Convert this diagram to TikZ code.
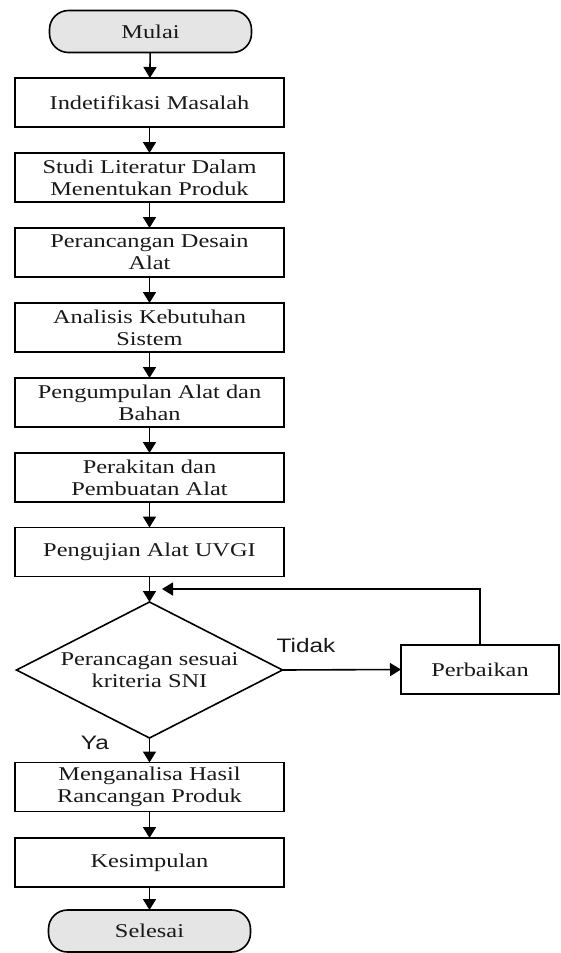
\documentclass[tikz,border=0pt]{standalone}
\usepackage{fontspec}
\usetikzlibrary{shapes.geometric,arrows.meta}
\newfontfamily\boxfont[FakeStretch=1.25]{Liberation Serif}
\newfontfamily\lblfont[FakeStretch=1.25]{Liberation Sans}
\begin{document}
\begin{tikzpicture}[x=1pt,y=-1pt,
  every node/.style={inner sep=0pt,outer sep=0pt},
  txt/.style={font=\boxfont\fontsize{19.5}{22}\selectfont,align=center,text=black!90},
  procbox/.style={txt,draw,line width=1.6pt,minimum width=269pt,minimum height=49pt},
  termbox/.style={txt,draw,line width=1.6pt,fill=gray!20,rounded corners=19pt,minimum width=202pt,minimum height=42pt},
  decbox/.style={draw,line width=1.6pt,diamond,minimum width=266pt,minimum height=136pt},
  lbl/.style={font=\lblfont\fontsize{19.5}{22}\selectfont,text=black!90},
  arr/.style={line width=1.6pt,-{Triangle[length=11pt,width=13pt]}}]
\useasboundingbox (0,0) rectangle (561,953);
\node[termbox] (start) at (150.5,31.5) {Mulai};
\node[procbox] (b1) at (149.5,102.5) {Indetifikasi Masalah};
\node[procbox] (b2) at (149.5,177.5) {Studi Literatur Dalam\\Menentukan Produk};
\node[procbox] (b3) at (149.5,252.5) {Perancangan Desain\\Alat};
\node[procbox] (b4) at (149.5,327.5) {Analisis Kebutuhan\\Sistem};
\node[procbox] (b5) at (149.5,402.5) {Pengumpulan Alat dan\\Bahan};
\node[procbox] (b6) at (149.5,477.5) {Perakitan dan\\Pembuatan Alat};
\node[procbox] (b7) at (149.5,552) {Pengujian Alat UVGI};
\node[decbox] (dec) at (149.5,670) {};
\node[txt] (dectext) at (149.5,670) {Perancagan sesuai\\kriteria SNI};
\node[procbox,minimum width=158pt] (perb) at (480,669.5) {Perbaikan};
\node[procbox] (b8) at (149.5,787) {Menganalisa Hasil\\Rancangan Produk};
\node[procbox] (b9) at (149.5,862.5) {Kesimpulan};
\node[termbox] (stop) at (149.5,931) {Selesai};
\node[lbl] (tidak) at (306,646) {Tidak};
\node[lbl] (ya) at (95,743) {Ya};
\coordinate (fb) at (162,589);
\draw[arr] (start) -- (b1);
\draw[arr] (b1) -- (b2);
\draw[arr] (b2) -- (b3);
\draw[arr] (b3) -- (b4);
\draw[arr] (b4) -- (b5);
\draw[arr] (b5) -- (b6);
\draw[arr] (b6) -- (b7);
\draw[arr] (b7) -- (dec);
\draw[arr] (dec.east) -- (perb.west);
\draw[arr] (perb.north) |- (fb);
\draw[arr] (dec.south) -- (b8);
\draw[arr] (b8) -- (b9);
\draw[arr] (b9) -- (stop);
\end{tikzpicture}
\end{document}
